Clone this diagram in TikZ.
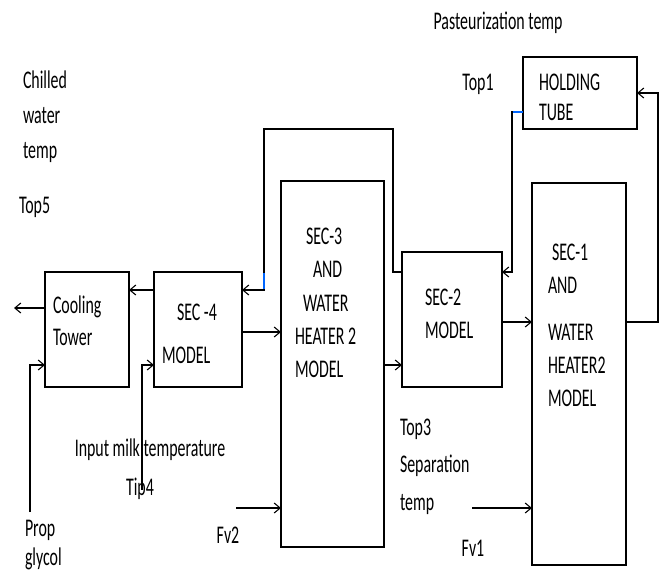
\documentclass[tikz,border=0pt]{standalone}
\usepackage{fontspec}
\setmainfont{Carlito}
\usepackage{graphicx}
\usetikzlibrary{arrows.meta}
% text lines are tall and narrow in the original
\newcommand{\txt}[2][20]{\scalebox{1}[1.6]{\fontsize{15.9}{#1}\selectfont\begin{tabular}{@{}l@{}}#2\end{tabular}}}

\begin{document}
\begin{tikzpicture}[x=1pt,y=-1pt,line join=miter,>={Straight Barb[length=6pt,width=10pt]},
	blk/.style={draw,line width=2.6pt,inner sep=0pt,outer sep=0pt},
	flow/.style={->,line width=1.1pt},
	lbl/.style={inner sep=0pt,outer sep=0pt}]
	\useasboundingbox (0,0) rectangle (660,579);
	% blocks
	\node[blk,minimum width=84pt,minimum height=115pt] (cool) at (87,329.5) {};
	\node[blk,minimum width=88pt,minimum height=115pt] (sec4) at (198,329.5) {};
	\node[blk,minimum width=103pt,minimum height=366pt] (sec3) at (332.5,364) {};
	\node[blk,minimum width=100pt,minimum height=135pt] (sec2) at (452,319.5) {};
	\node[blk,minimum width=94pt,minimum height=382pt] (sec1) at (579,374) {};
	\node[blk,minimum width=114pt,minimum height=72pt] (hold) at (580,93) {};
	% free ends
	\coordinate (out5) at (14,308);
	\coordinate (glyc) at (30,512);
	\coordinate (tip4) at (142,490);
	\coordinate (fv2) at (236,508);
	\coordinate (fv1) at (472,508);
	% connectors
	\draw[flow] (cool.west |- out5) -- (out5);
	\draw[flow] (sec4.west |- 0,290) -- (cool.east |- 0,290);
	\draw[flow] (sec2.west |- 0,272) -| (393,129) -| (264,290) -- (sec4.east |- 0,290);
	\draw[blue!60!cyan,line width=1.1pt] (264,273) -- (264,289);
	\draw[flow] (sec4.east |- 0,332) -- (sec3.west |- 0,332);
	\draw[flow] (glyc) |- (cool.west |- 0,365);
	\draw[flow] (tip4) |- (sec4.west |- 0,365);
	\draw[flow] (sec3.east |- 0,365) -- (sec2.west |- 0,365);
	\draw[flow] (fv2) -- (sec3.west |- fv2);
	\draw[flow] (sec2.east |- 0,322) -- (sec1.west |- 0,322);
	\draw[flow] (fv1) -- (sec1.west |- fv1);
	\draw[flow] (sec1.east |- 0,322) -| (658,93) -- (hold.east |- 0,93);
	\draw[flow] (hold.west |- 0,112) -| (512,272) -- (sec2.east |- 0,272);
	\draw[blue!60!cyan,line width=1.1pt] (513,112) -- (hold.west |- 0,112);
	% texts
	\node[lbl] (past) at (498,23) {\txt{Pasteurization temp}};
	\node[lbl,anchor=north west] (chill) at (23,63.6) {\txt[21.9]{Chilled\\water\\temp}};
	\node[lbl,anchor=west] (top5) at (19,207) {\txt{Top5}};
	\node[lbl] (top1) at (478,84) {\txt{Top1}};
	\node[lbl,anchor=north west] (holdtxt) at (539,69.2) {\txt[18.75]{HOLDING\\TUBE}};
	\node[lbl,anchor=north west] (sec1txt) at (548,237.1) {\txt[20.6]{\kern4pt SEC-1\\AND\\[8.75pt]WATER\\HEATER2\\MODEL}};
	\node[lbl,anchor=north west] (sec2txt) at (425,282.1) {\txt[20.6]{SEC-2\\MODEL}};
	\node[lbl,anchor=north west] (sec3txt) at (295,220.8) {\txt[20.9]{\kern11pt SEC-3\\\kern18pt AND\\\kern8pt WATER\\HEATER 2\\MODEL}};
	\node[lbl,anchor=north west] (cooltxt) at (53,290.8) {\txt[20]{Cooling\\Tower}};
	\node[lbl,anchor=north west] (sec4txt) at (162,290.1) {\txt[26.9]{\kern15pt SEC -4\\MODEL}};
	\node[lbl,anchor=north west] (glytxt) at (25,515.8) {\txt[18.1]{Prop\\glycol}};
	\node[lbl,anchor=north west] (top3txt) at (400,408.9) {\txt[23.4]{Top3\\Separation\\temp}};
	\node[lbl] (milk) at (150,450) {\txt{Input milk temperature}};
	\node[lbl] (tip4txt) at (140,489) {\txt{Tip4}};
	\node[lbl] (fv2txt) at (228,537) {\txt{Fv2}};
	\node[lbl] (fv1txt) at (473,550) {\txt{Fv1}};
\end{tikzpicture}
\end{document}
